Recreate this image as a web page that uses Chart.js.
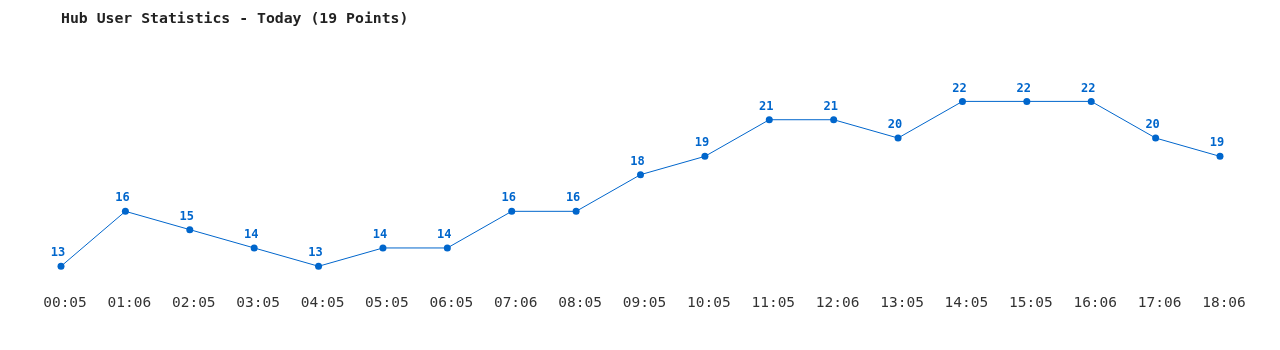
<!DOCTYPE html>
<html>
<head>
<meta charset="utf-8">
<script src="https://cdn.jsdelivr.net/npm/chart.js@4"></script>
<style>
  html, body { margin: 0; padding: 0; background: #fff; }
  #wrap { width: 1280px; height: 350px; }
</style>
</head>
<body>
<div id="wrap"><canvas id="chart" width="1280" height="350"></canvas></div>
<script>
const times = ['00:05', '01:06', '02:05', '03:05', '04:05', '05:05', '06:05', '07:06', '08:05', '09:05',
  '10:05', '11:05', '12:06', '13:05', '14:05', '15:05', '16:06', '17:06', '18:06']
const users = [13, 16, 15, 14, 13, 14, 14, 16, 16, 18, 19, 21, 21, 20, 22, 22, 22, 20, 19]

const blue = '#0066cc'
const mono = "'DejaVu Sans Mono', 'Liberation Mono', monospace"

// value labels above each point
const pointLabels = {
  id: 'pointLabels',
  afterDatasetsDraw(chart) {
    const ctx = chart.ctx
    const meta = chart.getDatasetMeta(0)
    ctx.save()
    ctx.font = 'bold 12px ' + mono
    ctx.fillStyle = blue
    ctx.textAlign = 'center'
    ctx.textBaseline = 'middle'
    meta.data.forEach((pt, i) => {
      ctx.fillText(String(users[i]), pt.x - 3, pt.y - 13)
    })
    ctx.restore()
  }
}

new Chart(document.getElementById('chart').getContext('2d'), {
  type: 'line',
  data: {
    labels: times,
    datasets: [{
      data: users,
      borderColor: blue,
      backgroundColor: blue,
      borderWidth: 1,
      pointRadius: 3.5,
      pointBorderWidth: 0,
      pointBackgroundColor: blue,
      tension: 0,
      fill: false
    }]
  },
  options: {
    responsive: false,
    animation: false,
    layout: { padding: { left: 61, right: 60, top: 0, bottom: 28 } },
    plugins: {
      legend: { display: false },
      tooltip: { enabled: false },
      title: {
        display: true,
        text: 'Hub User Statistics - Today (19 Points)',
        align: 'start',
        color: '#222',
        font: { family: mono, size: 14.8, weight: 'bold' },
        padding: { top: 10, bottom: 37 }
      }
    },
    scales: {
      x: {
        offset: false,
        grid: { display: false, drawTicks: false },
        border: { display: false },
        ticks: {
          color: '#333',
          font: { family: mono, size: 14.5 },
          padding: 10,
          labelOffset: 4,
          maxRotation: 0,
          autoSkip: false
        }
      },
      y: {
        display: false,
        min: 12,
        max: 24
      }
    }
  },
  plugins: [pointLabels]
})
</script>
</body>
</html>
